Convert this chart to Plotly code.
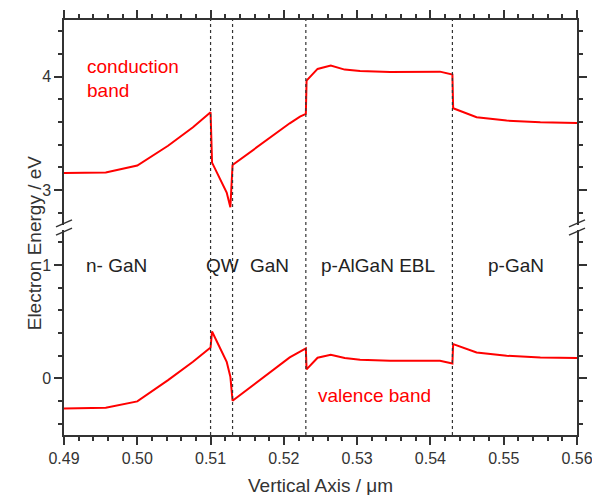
import plotly.graph_objects as go

# Band edge profiles across the LED stack (position in µm, energy in eV)
cb_x = [0.4900, 0.4957, 0.5000, 0.5042, 0.5076, 0.5100, 0.5102, 0.5122, 0.5127, 0.5130,
        0.5208, 0.5222, 0.5230, 0.5231, 0.5246, 0.5264, 0.5283, 0.5304, 0.5345, 0.5390,
        0.5413, 0.5430, 0.5431, 0.5463, 0.5504, 0.5550, 0.5600]
cb_e = [3.150, 3.153, 3.215, 3.390, 3.553, 3.686, 3.241, 2.976, 2.847, 3.220,
        3.588, 3.647, 3.671, 3.965, 4.068, 4.097, 4.062, 4.050, 4.041, 4.041,
        4.044, 4.018, 3.721, 3.642, 3.612, 3.597, 3.591]

vb_x = [0.4900, 0.4957, 0.5000, 0.5042, 0.5076, 0.5100, 0.5102, 0.5122, 0.5127, 0.5130,
        0.5208, 0.5222, 0.5230, 0.5231, 0.5246, 0.5264, 0.5283, 0.5304, 0.5345, 0.5390,
        0.5413, 0.5430, 0.5431, 0.5463, 0.5504, 0.5550, 0.5600]
vb_e = [-0.265, -0.259, -0.203, -0.015, 0.147, 0.273, 0.414, 0.147, 0.014, -0.197,
        0.185, 0.235, 0.265, 0.079, 0.182, 0.209, 0.179, 0.165, 0.156, 0.156,
        0.156, 0.132, 0.303, 0.229, 0.200, 0.185, 0.179]

# Layer interfaces
interfaces = [0.510, 0.513, 0.523, 0.543]

# Layer names and their centre positions
layer_names = ["n- GaN", "QW", "GaN", "p-AlGaN EBL", "p-GaN"]
layer_x = [0.4972, 0.5116, 0.5181, 0.5328, 0.5517]
layer_y = 1.0

x_range = [0.49, 0.56]
upper_range = [2.69, 4.5]
lower_range = [-0.5, 1.31]

AX = "#333333"
RED = "#ff0000"
FONT = "Liberation Sans, Arial, sans-serif"

fig = go.Figure()
fig.add_trace(go.Scatter(x=vb_x, y=vb_e, mode="lines", line=dict(color=RED, width=2),
                         xaxis="x", yaxis="y", showlegend=False))
fig.add_trace(go.Scatter(x=cb_x, y=cb_e, mode="lines", line=dict(color=RED, width=2),
                         xaxis="x2", yaxis="y2", showlegend=False))

axis_common = dict(showline=True, linecolor=AX, linewidth=1.5, ticks="outside",
                   ticklen=8, tickwidth=1.5, tickcolor=AX, showgrid=False, zeroline=False,
                   automargin=False, ticklabeloverflow="allow",
                   tickfont=dict(family=FONT, size=16, color=AX))

fig.update_layout(
    width=592, height=495,
    margin=dict(l=64, r=15, t=20, b=60, autoexpand=False),
    plot_bgcolor="white", paper_bgcolor="white",
    xaxis=dict(range=x_range, anchor="y", dtick=0.01, tickformat=".2f",
               minor=dict(dtick=0.002, ticklen=4, tickwidth=1.5, tickcolor=AX, ticks="outside"),
               **axis_common),
    xaxis2=dict(range=x_range, anchor="y2", side="top", overlaying="x", matches="x",
                dtick=0.01, showticklabels=False,
                minor=dict(dtick=0.002, ticklen=4, tickwidth=1.5, tickcolor=AX, ticks="outside"),
                **axis_common),
    yaxis=dict(range=lower_range, domain=[0, 0.494], dtick=1, mirror="ticks",
               minor=dict(dtick=0.2, ticklen=4, tickwidth=1.5, tickcolor=AX, ticks="outside"),
               **axis_common),
    yaxis2=dict(range=upper_range, domain=[0.506, 1], dtick=1, mirror="ticks",
                minor=dict(dtick=0.2, ticklen=4, tickwidth=1.5, tickcolor=AX, ticks="outside"),
                **axis_common),
)

shapes = []
for xi in interfaces:
    shapes.append(dict(type="line", xref="x", yref="paper", x0=xi, x1=xi, y0=0, y1=1,
                       line=dict(color=AX, width=1.2, dash="dot")))

# Axis-break slashes on both vertical axes
for xa in (0, 1):
    for yb in (0.510, 0.490):
        shapes.append(dict(type="line", xref="paper", yref="paper",
                           xsizemode="pixel", ysizemode="pixel",
                           xanchor=xa, yanchor=yb,
                           x0=-8, x1=8, y0=-3.5, y1=3.5,
                           line=dict(color=AX, width=1.5)))
fig.update_layout(shapes=shapes)

ann = []
for name, xc in zip(layer_names, layer_x):
    ann.append(dict(x=xc, y=layer_y, xref="x", yref="y", text=name, showarrow=False,
                    font=dict(family=FONT, size=19, color="#222222")))
ann.append(dict(x=0.4928, y=4.09, xref="x2", yref="y2", text="conduction", showarrow=False,
                xanchor="left", font=dict(family=FONT, size=19, color=RED)))
ann.append(dict(x=0.4928, y=3.88, xref="x2", yref="y2", text="band", showarrow=False,
                xanchor="left", font=dict(family=FONT, size=19, color=RED)))
ann.append(dict(x=0.5323, y=-0.15, xref="x", yref="y", text="valence band", showarrow=False,
                font=dict(family=FONT, size=19, color=RED)))
ann.append(dict(x=-0.082, y=0.463, xref="paper", yref="paper", text="Electron Energy / eV",
                textangle=-90, showarrow=False, font=dict(family=FONT, size=19, color=AX)))
ann.append(dict(x=0.5, y=-0.121, xref="paper", yref="paper", text="Vertical Axis / \u03bcm",
                showarrow=False, yanchor="middle",
                font=dict(family=FONT, size=19, color=AX)))
fig.update_layout(annotations=ann)

fig.write_html("out.html")
